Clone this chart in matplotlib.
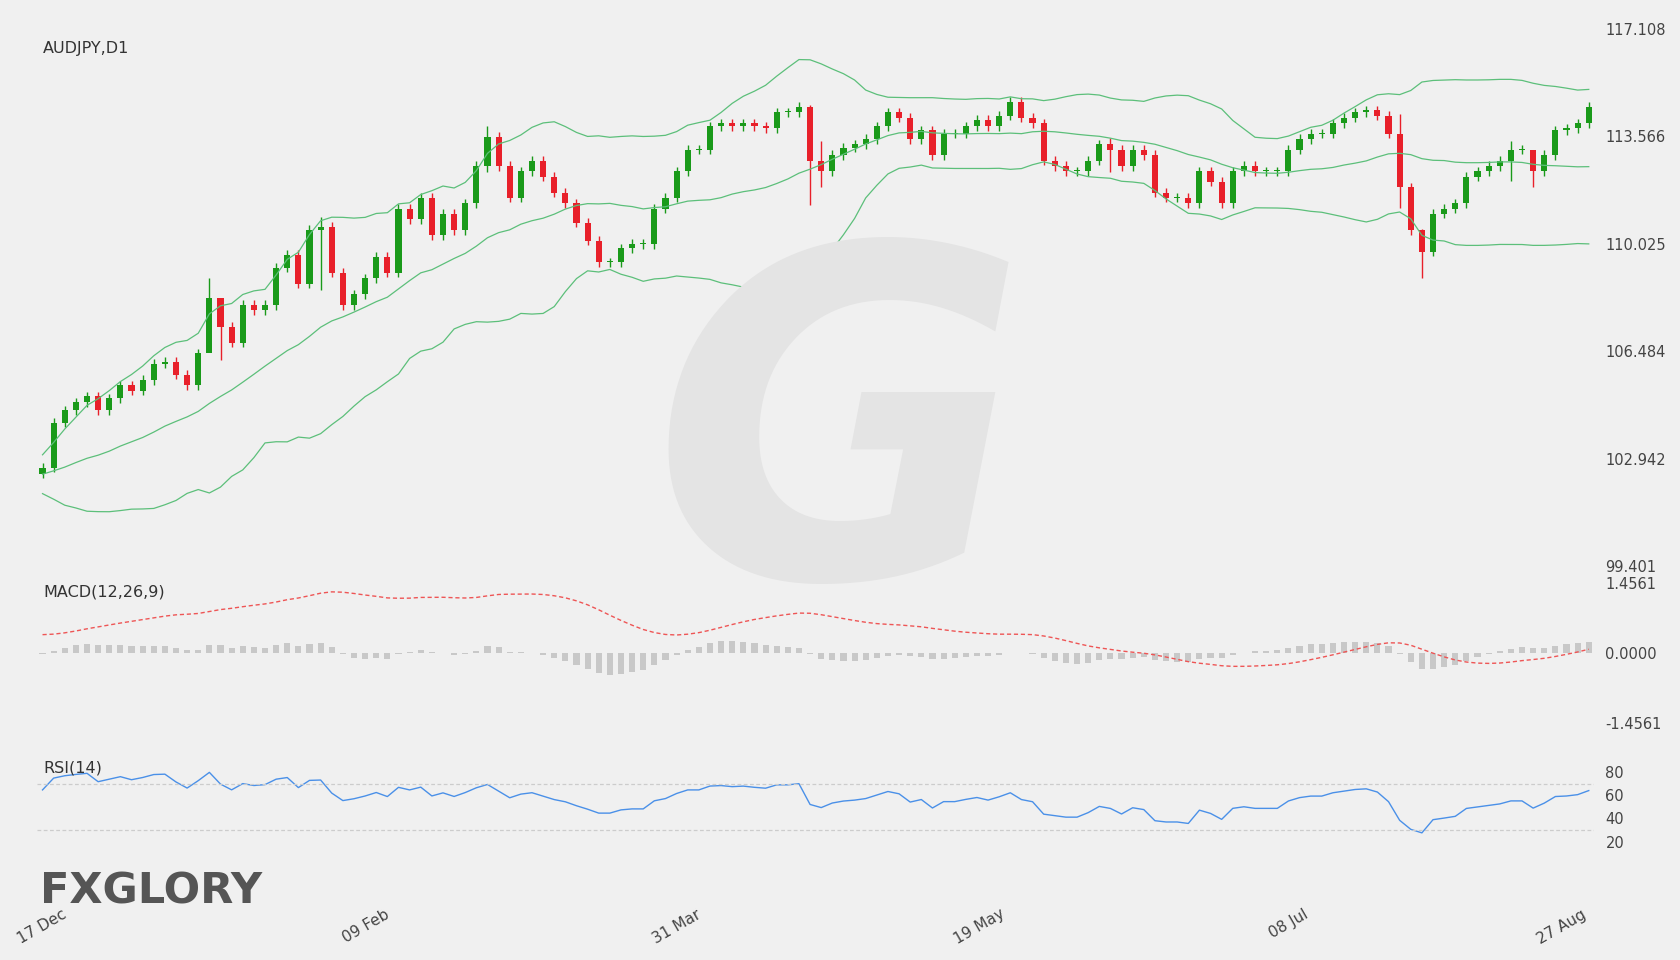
import numpy as np
import pandas as pd
import matplotlib.pyplot as plt

# daily closes (AUDJPY, 17 Dec -> 27 Aug)
closes = [102.65, 104.13, 104.55, 104.80, 105.01, 104.55, 104.94, 105.36, 105.19, 105.54,
          106.07, 106.14, 105.72, 105.36, 106.42, 108.25, 107.30, 106.77, 108.01, 107.83,
          108.01, 109.24, 109.67, 108.71, 110.48, 110.58, 109.07, 108.01, 108.36, 108.89,
          109.60, 109.07, 111.18, 110.83, 111.54, 110.30, 111.01, 110.48, 111.36, 112.59,
          113.55, 112.59, 111.54, 112.42, 112.77, 112.24, 111.71, 111.36, 110.72, 110.13,
          109.42, 109.42, 109.88, 110.02, 110.02, 111.18, 111.54, 112.42, 113.12, 113.12,
          113.90, 114.00, 113.90, 114.00, 113.90, 113.83, 114.36, 114.36, 114.54, 112.77,
          112.42, 112.95, 113.19, 113.30, 113.48, 113.90, 114.36, 114.18, 113.48, 113.76,
          112.95, 113.65, 113.65, 113.90, 114.11, 113.90, 114.25, 114.71, 114.18, 114.00,
          112.77, 112.59, 112.42, 112.42, 112.77, 113.30, 113.12, 112.59, 113.12, 112.95,
          111.71, 111.54, 111.54, 111.36, 112.42, 112.07, 111.36, 112.42, 112.59, 112.42,
          112.42, 112.42, 113.12, 113.48, 113.65, 113.65, 114.00, 114.18, 114.36, 114.43,
          114.25, 113.65, 111.89, 110.48, 109.77, 111.01, 111.18, 111.36, 112.24, 112.42,
          112.59, 112.77, 113.12, 113.12, 112.42, 112.95, 113.76, 113.83, 114.00, 114.54]
# closes before the visible window, used only to seed the indicators
pre_closes = [100.6, 100.9, 101.1, 100.8, 101.3, 101.6, 101.4, 101.9, 102.1, 101.8,
              102.2, 102.5, 102.3, 102.0, 102.4, 102.7, 102.5, 102.2, 102.6, 102.4,
              102.8, 103.0, 102.7, 102.5, 102.9, 102.6]
first_open = 102.45
# a few notably long wicks: index -> (high, low)
long_wicks = {15: (108.9, 107.3), 16: (108.2, 106.2), 25: (110.9, 108.5), 40: (113.9, 112.4),
              69: (114.6, 111.3), 70: (113.4, 111.9), 96: (113.5, 112.4), 122: (114.3, 111.2),
              124: (110.5, 108.9), 132: (113.4, 112.1), 134: (113.0, 111.9)}

date_labels = ["17 Dec", "09 Feb", "31 Mar", "19 May", "08 Jul", "27 Aug"]
date_frac = [0.0, 0.209, 0.41, 0.606, 0.806, 1.0]
price_ticks = [117.108, 113.566, 110.025, 106.484, 102.942, 99.401]

n = len(closes)
opens = [first_open] + closes[:-1]
highs, lows = [], []
for i in range(n):
    hi, lo = max(opens[i], closes[i]) + 0.15, min(opens[i], closes[i]) - 0.15
    if i in long_wicks:
        hi, lo = long_wicks[i]
    highs.append(hi)
    lows.append(lo)

full = pd.Series(pre_closes + closes)
ma = full.rolling(20).mean()
sd = full.rolling(20).std(ddof=0)
k = len(pre_closes)
mid = ma.values[k:]
upper = (ma + 2 * sd).values[k:]
lower = (ma - 2 * sd).values[k:]

ema12 = full.ewm(span=12, adjust=False).mean()
ema26 = full.ewm(span=26, adjust=False).mean()
macd = ema12 - ema26
signal = macd.ewm(span=9, adjust=False).mean()
hist = (macd - signal).values[k:]
signal = signal.values[k:]

delta = full.diff()
gain = delta.clip(lower=0).ewm(alpha=1 / 14, adjust=False).mean()
loss = (-delta.clip(upper=0)).ewm(alpha=1 / 14, adjust=False).mean()
rsi = (100 - 100 / (1 + gain / loss)).values[k:]

bg = "#f0f0f0"
fig = plt.figure(figsize=(16.8, 9.6), dpi=100, facecolor=bg)
L, R = 0.022, 0.949
ax = fig.add_axes([L, 0.410, R - L, 0.560], facecolor=bg)
axm = fig.add_axes([L, 0.247, R - L, 0.146], facecolor=bg)
axr = fig.add_axes([L, 0.099, R - L, 0.121], facecolor=bg)

# watermark
fig.text(0.50, 0.53, "G", fontsize=330, color="#e4e4e4", ha="center", va="center",
         fontweight="bold", style="italic", zorder=0)

x = np.arange(n)
for a in (ax, axm, axr):
    a.set_xlim(-0.5, n - 0.5)
    for s in a.spines.values():
        s.set_visible(False)
    a.yaxis.tick_right()
    a.tick_params(axis="y", length=0, labelsize=10.5, labelcolor="#444444", pad=8)
    a.tick_params(axis="x", length=0)
    a.set_xticks([])
    a.patch.set_alpha(0)

# candles
for i in range(n):
    col = "#1a9a1a" if closes[i] >= opens[i] else "#e8202a"
    ax.vlines(i, lows[i], highs[i], color=col, lw=1)
    b0, b1 = sorted((opens[i], closes[i]))
    ax.bar(i, max(b1 - b0, 0.04), bottom=b0, width=0.55, color=col, lw=0)
for band in (upper, mid, lower):
    ax.plot(x, band, color="#5cbf7a", lw=0.9)
ax.set_ylim(99.401, 117.108)
ax.set_yticks(price_ticks)
ax.set_yticklabels([f"{t:.3f}" for t in price_ticks])
ax.text(0.004, 0.955, "AUDJPY,D1", transform=ax.transAxes, fontsize=11.5, color="#333333")

# MACD
axm.bar(x, hist, width=0.55, color="#c8c8c8")
axm.plot(x, signal, color="#ee5555", lw=1, ls=(0, (3, 2)))
lim = max(np.abs(signal).max(), np.abs(hist).max()) * 1.15
axm.set_ylim(-lim, lim)
axm.set_yticks([lim, 0, -lim])
axm.set_yticklabels(["1.4561", "0.0000", "-1.4561"])
axm.text(0.004, 0.9, "MACD(12,26,9)", transform=axm.transAxes, fontsize=11.5, color="#333333")

# RSI
axr.plot(x, rsi, color="#4a90e8", lw=1)
for lvl in (30, 70):
    axr.axhline(lvl, color="#cccccc", lw=0.9, ls=(0, (3, 2)))
axr.set_ylim(0, 100)
axr.set_yticks([20, 40, 60, 80])
axr.text(0.004, 0.8, "RSI(14)", transform=axr.transAxes, fontsize=11.5, color="#333333")
axr.set_xticks([f * (n - 1) for f in date_frac])
axr.set_xticklabels(date_labels, rotation=30, fontsize=11, color="#444444")
axr.tick_params(axis="x", pad=30)
for lab in axr.get_xticklabels():
    lab.set_ha("right" if lab.get_text() == "27 Aug" else "center")

fig.text(0.024, 0.071, "FXGLORY", fontsize=31, fontweight="bold", color="#555555", va="center")

fig.savefig("out.png", dpi=100, facecolor=bg)
